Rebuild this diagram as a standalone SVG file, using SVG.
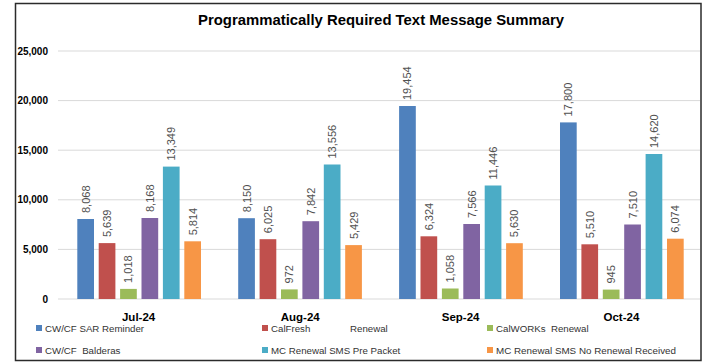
<svg xmlns="http://www.w3.org/2000/svg" width="704" height="363" viewBox="0 0 704 363">
<style>
text{font-family:"Liberation Sans",Arial,sans-serif}
.ttl{font-size:15px;font-weight:bold;fill:#000}
.ax{font-size:10px;font-weight:bold;fill:#000;text-anchor:end}
.cat{font-size:11.5px;font-weight:bold;fill:#000;text-anchor:middle}
.val{font-size:11px;fill:#505050;dominant-baseline:central}
.leg{font-size:9.7px;fill:#333;white-space:pre}
.grid{stroke:#d9d9d9;stroke-width:1}
.s1{fill:#4f81bd}.s2{fill:#c0504d}.s3{fill:#9bbb59}.s4{fill:#8064a2}.s5{fill:#4bacc6}.s6{fill:#f79646}
</style>
<rect x="0" y="0" width="704" height="363" fill="#fff"/>
<rect x="15.5" y="3.5" width="685.5" height="357" fill="#fff" stroke="#2b2b2b" stroke-width="1.5"/>
<g id="title"><text class="ttl" x="381" y="25" text-anchor="middle" textLength="366" lengthAdjust="spacingAndGlyphs">Programmatically Required Text Message Summary</text></g>
<g id="axis">
<line class="grid" x1="58" y1="51" x2="700" y2="51"/>
<line class="grid" x1="58" y1="100.6" x2="700" y2="100.6"/>
<line class="grid" x1="58" y1="150.2" x2="700" y2="150.2"/>
<line class="grid" x1="58" y1="199.8" x2="700" y2="199.8"/>
<line class="grid" x1="58" y1="249.4" x2="700" y2="249.4"/>
<line class="grid" x1="58" y1="299" x2="700" y2="299"/>
<text class="ax" x="48" y="54.5">25,000</text>
<text class="ax" x="48" y="104.1">20,000</text>
<text class="ax" x="48" y="153.7">15,000</text>
<text class="ax" x="48" y="203.3">10,000</text>
<text class="ax" x="48" y="252.9">5,000</text>
<text class="ax" x="48" y="302.5">0</text>
</g>
<g id="jul">
<rect class="s1" x="77.3" y="219" width="16.7" height="80"/>
<rect class="s2" x="98.7" y="243.1" width="16.7" height="55.9"/>
<rect class="s3" x="120.1" y="288.9" width="16.7" height="10.1"/>
<rect class="s4" x="141.5" y="218" width="16.7" height="81"/>
<rect class="s5" x="162.9" y="166.6" width="16.7" height="132.4"/>
<rect class="s6" x="184.3" y="241.3" width="16.7" height="57.7"/>
<text class="val" transform="translate(85.65,213) rotate(-90)">8,068</text>
<text class="val" transform="translate(107.05,237.1) rotate(-90)">5,639</text>
<text class="val" transform="translate(128.45,282.9) rotate(-90)">1,018</text>
<text class="val" transform="translate(149.85,212) rotate(-90)">8,168</text>
<text class="val" transform="translate(171.25,160.6) rotate(-90)">13,349</text>
<text class="val" transform="translate(192.65,235.3) rotate(-90)">5,814</text>
<text class="cat" x="138.6" y="320.5">Jul-24</text>
</g>
<g id="aug">
<rect class="s1" x="238.2" y="218.2" width="16.7" height="80.8"/>
<rect class="s2" x="259.6" y="239.2" width="16.7" height="59.8"/>
<rect class="s3" x="281" y="289.4" width="16.7" height="9.6"/>
<rect class="s4" x="302.4" y="221.2" width="16.7" height="77.8"/>
<rect class="s5" x="323.8" y="164.5" width="16.7" height="134.5"/>
<rect class="s6" x="345.2" y="245.1" width="16.7" height="53.9"/>
<text class="val" transform="translate(246.55,212.2) rotate(-90)">8,150</text>
<text class="val" transform="translate(267.95,233.2) rotate(-90)">6,025</text>
<text class="val" transform="translate(289.35,283.4) rotate(-90)">972</text>
<text class="val" transform="translate(310.75,215.2) rotate(-90)">7,842</text>
<text class="val" transform="translate(332.15,158.5) rotate(-90)">13,556</text>
<text class="val" transform="translate(353.55,239.1) rotate(-90)">5,429</text>
<text class="cat" x="300.2" y="320.5">Aug-24</text>
</g>
<g id="sep">
<rect class="s1" x="399.1" y="106" width="16.7" height="193"/>
<rect class="s2" x="420.5" y="236.3" width="16.7" height="62.7"/>
<rect class="s3" x="441.9" y="288.5" width="16.7" height="10.5"/>
<rect class="s4" x="463.3" y="224" width="16.7" height="75"/>
<rect class="s5" x="484.7" y="185.5" width="16.7" height="113.5"/>
<rect class="s6" x="506.1" y="243.2" width="16.7" height="55.8"/>
<text class="val" transform="translate(407.45,100) rotate(-90)">19,454</text>
<text class="val" transform="translate(428.85,230.3) rotate(-90)">6,324</text>
<text class="val" transform="translate(450.25,282.5) rotate(-90)">1,058</text>
<text class="val" transform="translate(471.65,218) rotate(-90)">7,566</text>
<text class="val" transform="translate(493.05,179.5) rotate(-90)">11,446</text>
<text class="val" transform="translate(514.45,237.2) rotate(-90)">5,630</text>
<text class="cat" x="460.6" y="320.5">Sep-24</text>
</g>
<g id="oct">
<rect class="s1" x="560" y="122.4" width="16.7" height="176.6"/>
<rect class="s2" x="581.4" y="244.3" width="16.7" height="54.7"/>
<rect class="s3" x="602.8" y="289.6" width="16.7" height="9.4"/>
<rect class="s4" x="624.2" y="224.5" width="16.7" height="74.5"/>
<rect class="s5" x="645.6" y="154" width="16.7" height="145"/>
<rect class="s6" x="667" y="238.7" width="16.7" height="60.3"/>
<text class="val" transform="translate(568.35,116.4) rotate(-90)">17,800</text>
<text class="val" transform="translate(589.75,238.3) rotate(-90)">5,510</text>
<text class="val" transform="translate(611.15,283.6) rotate(-90)">945</text>
<text class="val" transform="translate(632.55,218.5) rotate(-90)">7,510</text>
<text class="val" transform="translate(653.95,148) rotate(-90)">14,620</text>
<text class="val" transform="translate(675.35,232.7) rotate(-90)">6,074</text>
<text class="cat" x="621.4" y="320.5">Oct-24</text>
</g>
<g id="legend">
<rect class="s1" x="36" y="325" width="6" height="6"/>
<text class="leg" x="45" y="331.8">CW/CF SAR Reminder</text>
<rect class="s2" x="262" y="325" width="6" height="6"/>
<text class="leg" x="271" y="331.8">CalFresh<tspan x="350">Renewal</tspan></text>
<rect class="s3" x="487" y="325" width="6" height="6"/>
<text class="leg" x="496" y="331.8" xml:space="preserve">CalWORKs  Renewal</text>
<rect class="s4" x="36" y="347" width="6" height="6"/>
<text class="leg" x="45" y="353.8" xml:space="preserve">CW/CF  Balderas</text>
<rect class="s5" x="262" y="347" width="6" height="6"/>
<text class="leg" x="271" y="353.8">MC Renewal SMS Pre Packet</text>
<rect class="s6" x="487" y="347" width="6" height="6"/>
<text class="leg" x="496" y="353.8" textLength="180" lengthAdjust="spacingAndGlyphs">MC Renewal SMS No Renewal Received</text>
</g>
</svg>
